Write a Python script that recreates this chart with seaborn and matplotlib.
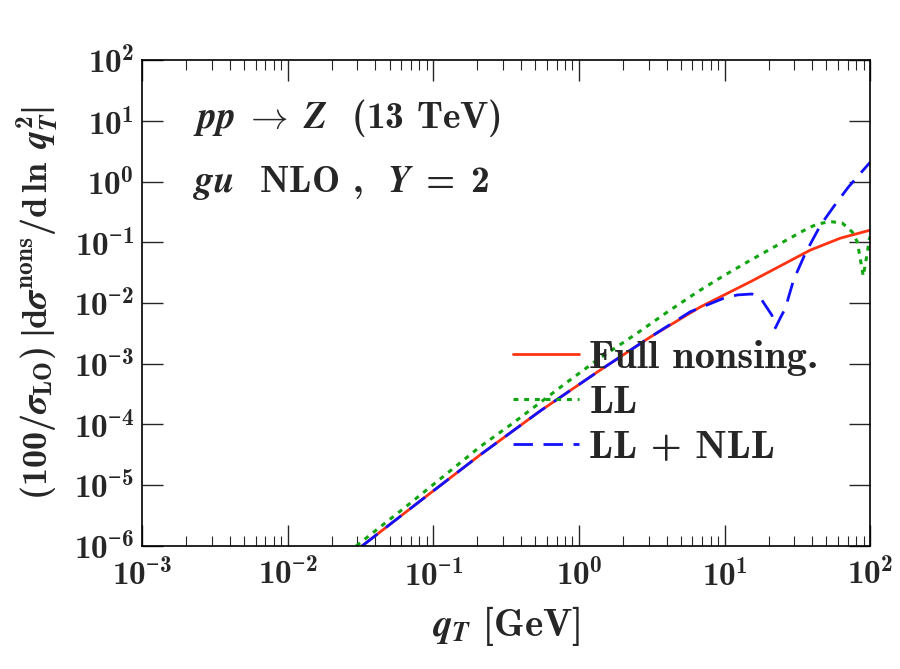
import numpy as np
import pandas as pd
import matplotlib
matplotlib.use("Agg")
import matplotlib.pyplot as plt
import seaborn as sns

# (qT in GeV, normalised nonsingular cross section)
qt_full = [0.0324, 0.0811, 0.209, 0.541, 1.40, 3.08, 6.79, 15.0, 38.7, 62.2, 100.0]
y_full = [1.0e-6, 5.5e-6, 3.15e-5, 1.67e-4, 7.9e-4, 2.75e-3, 8.6e-3, 2.24e-2, 7.45e-2, 0.117, 0.159]

qt_ll = [0.0295, 0.066, 0.209, 0.353, 0.83, 1.33, 2.51, 4.10, 6.59, 9.77, 15.0, 24.1, 37.5,
         43.3, 53.1, 64.3, 75.2, 81.5, 84.0, 89.5, 95.3, 98.4, 100.0]
y_ll = [1.0e-6, 4.6e-6, 4.3e-5, 1.06e-4, 5.0e-4, 1.15e-3, 3.2e-3, 7.3e-3, 1.56e-2, 2.79e-2,
        5.06e-2, 9.57e-2, 0.172, 0.200, 0.220, 0.207, 0.148, 0.101, 0.0665, 0.0278, 0.0665,
        0.113, 0.125]

qt_nll = [0.0324, 0.0811, 0.209, 0.541, 1.40, 3.08, 5.81, 9.77, 12.2, 15.4, 18.0, 21.1, 22.3,
          24.1, 26.1, 29.7, 35.8, 45.4, 55.7, 70.6, 100.0]
y_nll = [1.0e-6, 5.5e-6, 3.15e-5, 1.67e-4, 7.9e-4, 2.75e-3, 7.2e-3, 1.19e-2, 1.36e-2, 1.41e-2,
         1.12e-2, 6.3e-3, 3.9e-3, 5.7e-3, 8.2e-3, 2.39e-2, 6.58e-2, 0.19, 0.38, 0.81, 2.1]

labels = ["Full nonsing.", "LL", r"LL + NLL"]
x_exp = [-3, -2, -1, 0, 1, 2]
y_exp = [-6, -5, -4, -3, -2, -1, 0, 1, 2]


def pow_label(k):
    # cmb10 has no minus sign, so take it from another bold serif
    if k < 0:
        return r"$\mathbf{10}^{\mathsf{-}\mathbf{%d}}$" % (-k)
    return r"$\mathbf{10}^{\mathbf{%d}}$" % k


sns.set_theme(style="ticks")
plt.rcParams.update({
    "font.family": "cmb10",
    "mathtext.fontset": "custom",
    "mathtext.rm": "cmb10",
    "mathtext.bf": "cmb10",
    "mathtext.sf": "Liberation Serif:bold",
    "mathtext.it": "STIXGeneral:italic:bold",
    "axes.unicode_minus": False,
    "axes.linewidth": 1.2,
    "axes.edgecolor": "black",
})

fig = plt.figure(figsize=(9, 6.69), dpi=100)
ax = fig.add_axes([0.158, 0.184, 0.809, 0.726])

df_full = pd.DataFrame({"qT": qt_full, "y": y_full})
df_ll = pd.DataFrame({"qT": qt_ll, "y": y_ll})
df_nll = pd.DataFrame({"qT": qt_nll, "y": y_nll})

sns.lineplot(data=df_full, x="qT", y="y", ax=ax, color="#ff3311", lw=2.0,
             sort=False, estimator=None, label=labels[0])
sns.lineplot(data=df_ll, x="qT", y="y", ax=ax, color="#11a611", lw=2.2,
             sort=False, estimator=None, label=labels[1])
ax.lines[-1].set_dashes([1.6, 1.9])
sns.lineplot(data=df_nll, x="qT", y="y", ax=ax, color="#1111ff", lw=2.0,
             sort=False, estimator=None, label=labels[2])
ax.lines[-1].set_dashes([7, 3.8])

ax.set_xscale("log")
ax.set_yscale("log")
ax.set_xlim(1e-3, 1e2)
ax.set_ylim(1e-6, 1e2)
ax.set_xticks([10.0**k for k in x_exp])
ax.set_xticklabels([pow_label(k) for k in x_exp])
ax.set_yticks([10.0**k for k in y_exp])
ax.set_yticklabels([pow_label(k) for k in y_exp])

ax.tick_params(which="both", direction="in", top=True, right=True, labelsize=24)
ax.tick_params(which="major", length=15, width=1.0)
ax.tick_params(which="minor", length=7, width=0.8)
ax.tick_params(axis="x", pad=9)
ax.tick_params(axis="y", pad=6)

ax.set_xlabel(r"$q_T$ [GeV]", fontsize=28, labelpad=9)
ax.set_ylabel(r"$(100/\sigma_{\rm LO})\ \mathsf{|}{\rm d}\sigma^{\rm nons}/{\rm d}\,\ln\ q_T^2\mathsf{|}$",
              fontsize=26, labelpad=10)

ax.text(0.07, 0.881, r"$pp\ \to\ Z$  (13 TeV)", transform=ax.transAxes,
        fontsize=27, va="center", ha="left")
ax.text(0.07, 0.747, r"$gu$  NLO ,  $Y\ =\ 2$", transform=ax.transAxes,
        fontsize=27, va="center", ha="left")

ax.legend(loc="upper left", bbox_to_anchor=(0.487, 0.458), frameon=False,
          fontsize=29, handlelength=1.65, handletextpad=0.25, labelspacing=0.22,
          borderaxespad=0.0)

fig.savefig("out.png", dpi=100)
